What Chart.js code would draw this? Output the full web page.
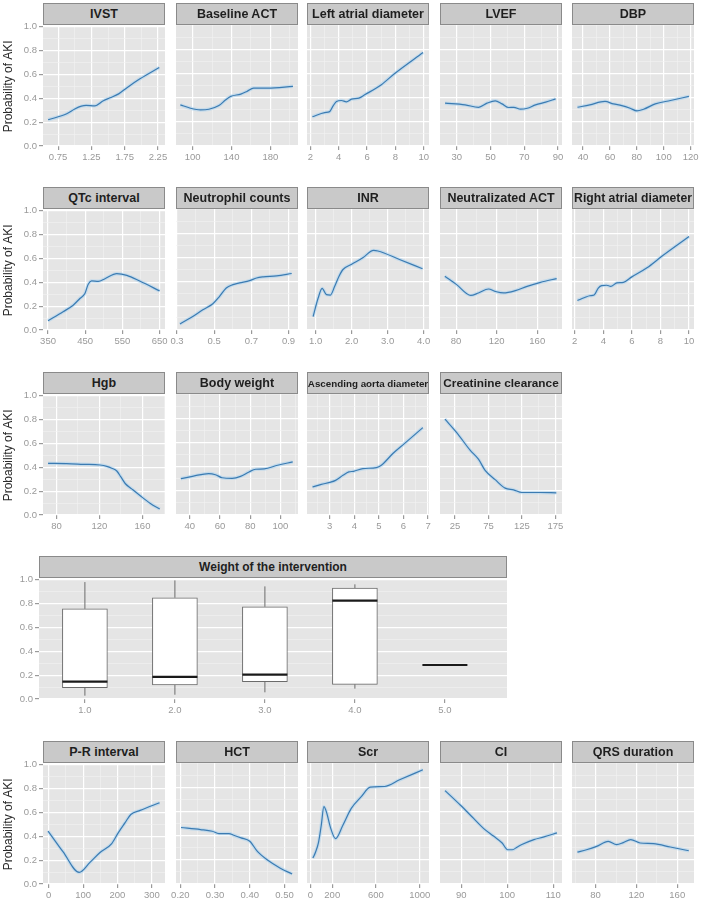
<!DOCTYPE html>
<html>
<head>
  <meta charset="utf-8">
  <title>Probability of AKI</title>
  <script src="https://cdn.jsdelivr.net/npm/chart.js"></script>
  <style>
    body {
      margin: 0;
      width: 701px;
      height: 901px;
      overflow: hidden;
      position: relative;
      background: #fff;
      font-family: "Liberation Sans", Arial, sans-serif;
    }
    canvas { position: absolute; }
    /* facet strip above each panel */
    .strip {
      position: absolute;
      box-sizing: border-box;
      height: 22px;
      background: #c9c9c9;
      border: 1px solid #8a8a8a;
      color: #1f1f1f;
      font-weight: bold;
      font-size: 12.5px;
      display: flex;
      align-items: center;
      justify-content: center;
      white-space: nowrap;
      overflow: hidden;
      z-index: 2;
    }
  </style>
</head>
<body>
<script>
  // ---- data ----
  const yLabels = ['0.0', '0.2', '0.4', '0.6', '0.8', '1.0'];

  const ivstX = [0.60, 0.88, 1.00, 1.10, 1.17, 1.30, 1.43, 1.53, 1.66, 1.78, 1.98, 2.27];
  const ivstY = [0.22, 0.27, 0.31, 0.334, 0.34, 0.337, 0.38, 0.404, 0.437, 0.487, 0.563, 0.658];
  const ivstTicks = ['0.75', '1.25', '1.75', '2.25'];

  const actX = [87.3, 97.7, 108, 116.7, 127, 134, 139.2, 149.6, 155.8, 162.8, 177.3, 203.3];
  const actY = [0.34, 0.312, 0.298, 0.304, 0.334, 0.382, 0.41, 0.429, 0.451, 0.479, 0.479, 0.493];
  const actTicks = ['100', '140', '180'];

  const ladX = [2.14, 3.01, 3.36, 3.60, 3.84, 4.19, 4.54, 4.90, 5.43, 5.83, 7.01, 7.95, 9.95];
  const ladY = [0.242, 0.276, 0.284, 0.331, 0.368, 0.376, 0.365, 0.387, 0.396, 0.423, 0.507, 0.599, 0.772];
  const ladTicks = ['2', '4', '6', '8', '10'];

  const lvefX = [23.0, 34.9, 42.9, 47.9, 52.8, 56.8, 60.8, 63.8, 67.8, 71.8, 76.7, 82.7, 88.6];
  const lvefY = [0.354, 0.34, 0.32, 0.354, 0.373, 0.348, 0.318, 0.32, 0.304, 0.312, 0.34, 0.362, 0.39];
  const lvefTicks = ['30', '50', '70', '90'];

  const dbpX = [35.8, 45, 56.3, 62.5, 68.8, 75, 80, 85, 93.7, 105, 118.7];
  const dbpY = [0.32, 0.34, 0.368, 0.348, 0.334, 0.312, 0.29, 0.304, 0.348, 0.376, 0.41];
  const dbpTicks = ['40', '60', '80', '100', '120'];

  const qtcX = [350, 390.5, 417.6, 435.7, 449.2, 458.1, 467.3, 485.1, 503.2, 534.8, 561.9, 597.8, 650];
  const qtcY = [0.078, 0.153, 0.208, 0.264, 0.306, 0.383, 0.411, 0.408, 0.43, 0.472, 0.458, 0.408, 0.328];
  const qtcTicks = ['350', '450', '550', '650'];

  const neutX = [0.316, 0.376, 0.439, 0.493, 0.529, 0.565, 0.601, 0.637, 0.691, 0.728, 0.764, 0.836, 0.917];
  const neutY = [0.05, 0.103, 0.167, 0.217, 0.278, 0.347, 0.375, 0.389, 0.408, 0.43, 0.439, 0.447, 0.467];
  const neutTicks = ['0.3', '0.5', '0.7', '0.9'];

  const inrX = [0.93, 1.07, 1.18, 1.30, 1.41, 1.53, 1.65, 1.76, 1.99, 2.31, 2.61, 2.73, 3.33, 3.97];
  const inrY = [0.111, 0.264, 0.344, 0.292, 0.289, 0.361, 0.444, 0.5, 0.542, 0.597, 0.658, 0.653, 0.583, 0.506];
  const inrTicks = ['1.0', '2.0', '3.0', '4.0'];

  const nactX = [68.9, 80.5, 94.4, 102, 111.9, 118.5, 126.8, 138.4, 150, 163.2, 179.1];
  const nactY = [0.444, 0.375, 0.286, 0.306, 0.339, 0.319, 0.306, 0.325, 0.361, 0.394, 0.425];
  const nactTicks = ['80', '120', '160'];

  const radX = [2.19, 2.70, 3.06, 3.36, 3.65, 3.89, 4.24, 4.52, 4.95, 5.41, 6.0, 7.06, 8.12, 10.0];
  const radY = [0.244, 0.269, 0.283, 0.289, 0.347, 0.367, 0.37, 0.361, 0.389, 0.394, 0.439, 0.514, 0.611, 0.772];
  const radTicks = ['2', '4', '6', '8', '10'];

  const hgbX = [72.2, 89.4, 104.9, 120.5, 126.8, 131.4, 136.1, 139.9, 143.9, 150.2, 157.9, 167.3, 176];
  const hgbY = [0.433, 0.431, 0.425, 0.419, 0.408, 0.392, 0.369, 0.319, 0.264, 0.217, 0.161, 0.097, 0.05];
  const hgbTicks = ['80', '120', '160'];

  const bwX = [34.1, 42.5, 52.5, 57, 61.4, 68.1, 73.6, 79.2, 83.6, 89.2, 98.1, 108.1];
  const bwY = [0.3, 0.322, 0.342, 0.333, 0.308, 0.303, 0.319, 0.356, 0.378, 0.381, 0.411, 0.439];
  const bwTicks = ['40', '60', '80', '100'];

  const aadX = [2.30, 2.66, 3.0, 3.24, 3.54, 3.78, 3.97, 4.35, 4.9, 5.1, 5.57, 6.05, 6.79];
  const aadY = [0.231, 0.253, 0.269, 0.286, 0.328, 0.356, 0.361, 0.383, 0.392, 0.411, 0.508, 0.592, 0.722];
  const aadTicks = ['3', '4', '5', '6', '7'];

  const crclX = [9.9, 27.5, 47.5, 60, 70, 85, 100, 112.5, 125, 152.5, 176.5];
  const crclY = [0.792, 0.681, 0.536, 0.461, 0.369, 0.292, 0.222, 0.208, 0.186, 0.186, 0.183];
  const crclTicks = ['25', '75', '125', '175'];

  const prX = [-2, 41.9, 88.7, 120, 149.2, 183.3, 202.6, 222.2, 238.8, 266, 322.5];
  const prY = [0.444, 0.269, 0.097, 0.181, 0.264, 0.339, 0.431, 0.514, 0.583, 0.617, 0.681];
  const prTicks = ['0', '100', '200', '300'];

  const hctX = [0.202, 0.258, 0.292, 0.311, 0.34, 0.354, 0.375, 0.40, 0.422, 0.45, 0.488, 0.522];
  const hctY = [0.467, 0.45, 0.436, 0.417, 0.417, 0.403, 0.381, 0.353, 0.269, 0.2, 0.131, 0.083];
  const hctTicks = ['0.20', '0.30', '0.40', '0.50'];

  const scrX = [22.8, 47.6, 75, 99.6, 123.4, 150.8, 181.9, 230.4, 297.2, 374, 465.5, 547.8, 678.6, 815.9, 1029];
  const scrY = [0.214, 0.264, 0.347, 0.486, 0.639, 0.583, 0.472, 0.375, 0.486, 0.625, 0.722, 0.8, 0.806, 0.861, 0.944];
  const scrTicks = ['0', '200', '600', '1000'];

  const ciX = [86.5, 89.8, 92.7, 94.9, 97.1, 98.9, 100.1, 101.1, 102.2, 103.3, 105.8, 108, 110.8];
  const ciY = [0.772, 0.653, 0.542, 0.458, 0.394, 0.339, 0.283, 0.283, 0.306, 0.328, 0.367, 0.389, 0.422];
  const ciTicks = ['90', '100', '110'];

  const qrsX = [62.2, 71.1, 81, 92.4, 100.6, 107.2, 114.4, 123.6, 136.7, 153.2, 171.3];
  const qrsY = [0.264, 0.283, 0.311, 0.353, 0.325, 0.342, 0.367, 0.339, 0.333, 0.306, 0.275];
  const qrsTicks = ['80', '120', '160'];

  // boxplot: weight of the intervention
  const boxCats = [1, 2, 3, 4, 5];
  const boxCatLabels = ['1.0', '2.0', '3.0', '4.0', '5.0'];
  const boxLow = [0.028, 0.036, 0.056, 0.087, 0.285];
  const boxQ1 = [0.095, 0.118, 0.146, 0.123, 0.285];
  const boxMed = [0.146, 0.185, 0.204, 0.824, 0.285];
  const boxQ3 = [0.756, 0.849, 0.773, 0.930, 0.285];
  const boxHigh = [0.980, 0.994, 0.944, 0.961, 0.285];

  // ---- layout ----
  const colLeft = [43, 176, 307, 440, 572];
  const rowTop = [25, 209, 394, 578, 763];
  const PANEL_W = 122, PANEL_H = 121;
  const PAD = 12, TOP_PAD = 6, X_AXIS_H = 17;
  const Y_TITLE = 'Probability of AKI';

  // row, col, title, x, y, ticks, axis range
  const panels = [
    { row: 0, col: 0, title: 'IVST', xs: ivstX, ys: ivstY, ticks: ivstTicks, min: 0.523, max: 2.356 },
    { row: 0, col: 1, title: 'Baseline ACT', xs: actX, ys: actY, ticks: actTicks, min: 82.8, max: 208.5 },
    { row: 0, col: 2, title: 'Left atrial diameter', xs: ladX, ys: ladY, ticks: ladTicks, min: 1.76, max: 10.37 },
    { row: 0, col: 3, title: 'LVEF', xs: lvefX, ys: lvefY, ticks: lvefTicks, min: 20.0, max: 92.4 },
    { row: 0, col: 4, title: 'DBP', xs: dbpX, ys: dbpY, ticks: dbpTicks, min: 31.75, max: 122.5 },
    { row: 1, col: 0, title: 'QTc interval', xs: qtcX, ys: qtcY, ticks: qtcTicks, min: 336.5, max: 664.6 },
    { row: 1, col: 1, title: 'Neutrophil counts', xs: neutX, ys: neutY, ticks: neutTicks, min: 0.2946, max: 0.951 },
    { row: 1, col: 2, title: 'INR', xs: inrX, ys: inrY, ticks: inrTicks, min: 0.76, max: 4.15 },
    { row: 1, col: 3, title: 'Neutralizated ACT', xs: nactX, ys: nactY, ticks: nactTicks, min: 64.1, max: 184.4 },
    { row: 1, col: 4, title: 'Right atrial diameter', xs: radX, ys: radY, ticks: radTicks, min: 1.81, max: 10.35, size: 12.2 },
    { row: 2, col: 0, title: 'Hgb', xs: hgbX, ys: hgbY, ticks: hgbTicks, min: 67.5, max: 180.9 },
    { row: 2, col: 1, title: 'Body weight', xs: bwX, ys: bwY, ticks: bwTicks, min: 30.9, max: 111.6 },
    { row: 2, col: 2, title: 'Ascending aorta diameter', xs: aadX, ys: aadY, ticks: aadTicks, min: 2.077, max: 7.04, size: 9.8 },
    { row: 2, col: 3, title: 'Creatinine clearance', xs: crclX, ys: crclY, ticks: crclTicks, min: 2.5, max: 185, size: 11.8 },
    { row: 4, col: 0, title: 'P-R interval', xs: prX, ys: prY, ticks: prTicks, min: -16.7, max: 338.3 },
    { row: 4, col: 1, title: 'HCT', xs: hctX, ys: hctY, ticks: hctTicks, min: 0.1875, max: 0.539 },
    { row: 4, col: 2, title: 'Scr', xs: scrX, ys: scrY, ticks: scrTicks, min: -31, max: 1085 },
    { row: 4, col: 3, title: 'CI', xs: ciX, ys: ciY, ticks: ciTicks, min: 85.4, max: 111.9 },
    { row: 4, col: 4, title: 'QRS duration', xs: qrsX, ys: qrsY, ticks: qrsTicks, min: 56.9, max: 176.4 }
  ];

  Chart.defaults.font.family = '"Liberation Sans", Arial, sans-serif';

  // grey panel background like ggplot
  const panelBg = {
    id: 'panelBg',
    beforeDraw(chart) {
      const { ctx, chartArea: a } = chart;
      ctx.save();
      ctx.fillStyle = '#e5e5e5';
      ctx.fillRect(a.left, a.top, a.width, a.height);
      ctx.restore();
    }
  };

  const near = (a, b) => Math.abs(a - b) < 1e-9;

  // minor breaks halfway between the major ones
  function minorBreaks(majors, min, max) {
    const out = [];
    for (let i = 0; i < majors.length - 1; i++) out.push((majors[i] + majors[i + 1]) / 2);
    if (majors.length > 1) {
      out.push(majors[0] - (majors[1] - majors[0]) / 2);
      const n = majors.length;
      out.push(majors[n - 1] + (majors[n - 1] - majors[n - 2]) / 2);
    }
    return out.filter(v => v > min && v < max);
  }

  function ggAxis(labels, min, max, opts) {
    const majors = labels.map(Number);
    const all = majors.concat(opts.minor === false ? [] : minorBreaks(majors, min, max)).sort((a, b) => a - b);
    const isMajor = v => majors.some(m => near(m, v));
    const axis = {
      type: 'linear',
      min: min,
      max: max,
      offset: false,
      afterBuildTicks: s => { s.ticks = all.map(v => ({ value: v })); },
      afterFit: opts.fit,
      border: { display: false },
      grid: {
        offset: false,
        drawOnChartArea: opts.grid !== false,
        drawTicks: opts.labels,
        tickLength: 4,
        color: c => isMajor(c.tick.value) ? '#ffffff' : '#f2f2f2',
        lineWidth: c => isMajor(c.tick.value) ? 1.2 : 0.6,
        tickColor: c => isMajor(c.tick.value) ? '#9a9a9a' : 'rgba(0,0,0,0)'
      },
      ticks: {
        display: opts.labels,
        autoSkip: false,
        maxRotation: 0,
        minRotation: 0,
        padding: 2,
        color: '#999999',
        font: { size: 9.5 },
        callback: v => {
          const i = majors.findIndex(m => near(m, v));
          return i >= 0 ? labels[i] : '';
        }
      }
    };
    if (opts.title) {
      axis.title = {
        display: true,
        text: opts.title,
        color: '#2a2a2a',
        font: { size: 12 },
        padding: { top: 1, bottom: 0 }
      };
    }
    return axis;
  }

  function addStrip(text, left, top, width, size) {
    const d = document.createElement('div');
    d.className = 'strip';
    d.textContent = text;
    d.style.left = left + 'px';
    d.style.top = top + 'px';
    d.style.width = width + 'px';
    if (size) d.style.fontSize = size + 'px';
    document.body.appendChild(d);
  }

  function addCanvas(left, top, w, h) {
    const cv = document.createElement('canvas');
    cv.width = w;
    cv.height = h;
    cv.style.left = left + 'px';
    cv.style.top = top + 'px';
    document.body.appendChild(cv);
    return cv;
  }

  // small smoothed-line panels
  panels.forEach(p => {
    const left = colLeft[p.col];
    const top = rowTop[p.row];
    const first = p.col === 0;
    const axisW = first ? left : 0;
    const cv = addCanvas(first ? 0 : left - PAD, top - TOP_PAD,
      (first ? left : PAD) + PANEL_W + PAD, TOP_PAD + PANEL_H + X_AXIS_H);
    addStrip(p.title, left, top - 22, PANEL_W, p.size);

    const pts = p.xs.map((x, i) => ({ x: x, y: p.ys[i] }));

    new Chart(cv, {
      type: 'scatter',
      data: {
        datasets: [
          {
            // thin confidence ribbon look
            data: pts, showLine: true, pointRadius: 0, order: 2,
            borderColor: 'rgba(170, 210, 238, 0.55)', borderWidth: 3.5,
            cubicInterpolationMode: 'monotone'
          },
          {
            data: pts, showLine: true, pointRadius: 0, order: 1,
            borderColor: '#3b7bb2', borderWidth: 1.2,
            cubicInterpolationMode: 'monotone'
          }
        ]
      },
      options: {
        responsive: false,
        animation: false,
        events: [],
        layout: { padding: { left: first ? 0 : PAD, right: PAD, top: TOP_PAD, bottom: 0 } },
        plugins: { legend: { display: false }, tooltip: { enabled: false } },
        scales: {
          x: ggAxis(p.ticks, p.min, p.max, { labels: true, fit: s => { s.height = X_AXIS_H; } }),
          y: ggAxis(yLabels, 0, 1, {
            labels: first,
            title: first ? Y_TITLE : null,
            fit: s => { s.width = axisW; }
          })
        }
      },
      plugins: [panelBg]
    });
  });

  // boxplot panel
  const BOX_LEFT = 39, BOX_W = 468, BOX_HALF = 0.25;
  const boxTop = rowTop[3];
  const boxCanvas = addCanvas(0, boxTop - TOP_PAD, BOX_LEFT + BOX_W + PAD, TOP_PAD + PANEL_H + X_AXIS_H);
  addStrip('Weight of the intervention', BOX_LEFT, boxTop - 22, BOX_W, 12);

  const whiskerSets = [];
  boxCats.forEach((c, i) => {
    whiskerSets.push({ type: 'line', data: [{ x: c, y: boxLow[i] }, { x: c, y: boxQ1[i] }] });
    whiskerSets.push({ type: 'line', data: [{ x: c, y: boxQ3[i] }, { x: c, y: boxHigh[i] }] });
  });
  whiskerSets.forEach(d => Object.assign(d, { borderColor: '#6b6b6b', borderWidth: 1, pointRadius: 0, order: 2 }));

  const medianSets = boxCats.map((c, i) => ({
    type: 'line',
    data: [{ x: c - BOX_HALF, y: boxMed[i] }, { x: c + BOX_HALF, y: boxMed[i] }],
    borderColor: '#1a1a1a', borderWidth: 2.2, pointRadius: 0, order: 1
  }));

  new Chart(boxCanvas, {
    type: 'bar',
    data: {
      datasets: [
        {
          type: 'bar',
          data: boxCats.map((c, i) => ({ x: c, y: [boxQ1[i], boxQ3[i]] })),
          backgroundColor: '#ffffff',
          borderColor: '#6b6b6b',
          borderWidth: 1,
          borderSkipped: false,
          barThickness: 45,
          order: 3
        }
      ].concat(whiskerSets, medianSets)
    },
    options: {
      responsive: false,
      animation: false,
      events: [],
      layout: { padding: { left: 0, right: PAD, top: TOP_PAD, bottom: 0 } },
      plugins: { legend: { display: false }, tooltip: { enabled: false } },
      scales: {
        x: ggAxis(boxCatLabels, 0.49, 5.69, { labels: true, grid: false, minor: false, fit: s => { s.height = X_AXIS_H; } }),
        y: ggAxis(yLabels, 0, 1, { labels: true, fit: s => { s.width = BOX_LEFT; } })
      }
    },
    plugins: [panelBg]
  });
</script>
</body>
</html>
